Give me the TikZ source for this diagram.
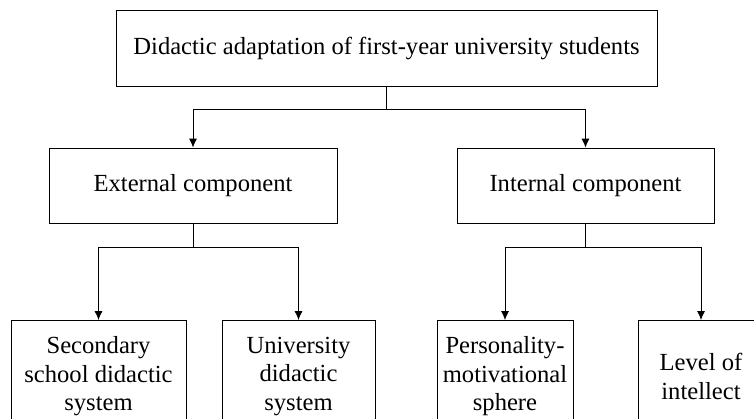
\documentclass[tikz,border=0pt]{standalone}
\usepackage{fontspec}
\setmainfont{Liberation Serif}
\usepackage{tikz}
\usetikzlibrary{arrows.meta,positioning}

\begin{document}
\begin{tikzpicture}[
    x=1pt, y=-1pt,
    box/.style={draw, rectangle, align=center, inner sep=0pt, font=\fontsize{24.6}{28.5}\selectfont},
    leaf/.style={box, anchor=north, minimum height=112pt},
    ->,>={Latex[length=9pt,width=8pt]},line width=0.8pt
]
    \clip (0,0) rectangle (754,418);

    \node[box, minimum width=541pt, minimum height=76pt] (adapt) at (386.5,48) {Didactic adaptation of first-year university students};
    \node[box, minimum width=288pt, minimum height=75pt] (ext) at (193,185.5) {External component};
    \node[box, minimum width=257pt, minimum height=75pt] (int) at (585.5,185.5) {Internal component};

    \node[leaf, minimum width=175pt] (school) at (98.5,320) {Secondary\\school didactic\\system};
    \node[leaf, minimum width=153pt] (univ) at (298.5,320) {University\\didactic\\system};
    \node[leaf, minimum width=136pt] (pers) at (505,320) {Personality-\\motivational\\sphere};
    \node[leaf, minimum width=126pt] (intel) at (701,320) {Level of\\intellect};

    % Branch points
    \coordinate (j0) at (386.5,109);
    \coordinate (j1) at (193,247);
    \coordinate (j2) at (585.5,247);

    % Connections
    \draw[-] (adapt) -- (j0);
    \draw (j0) -| (ext);
    \draw (j0) -| (int);
    \draw[-] (ext) -- (j1);
    \draw (j1) -| (school);
    \draw (j1) -| (univ);
    \draw[-] (int) -- (j2);
    \draw (j2) -| (pers);
    \draw (j2) -| (intel);
\end{tikzpicture}
\end{document}
